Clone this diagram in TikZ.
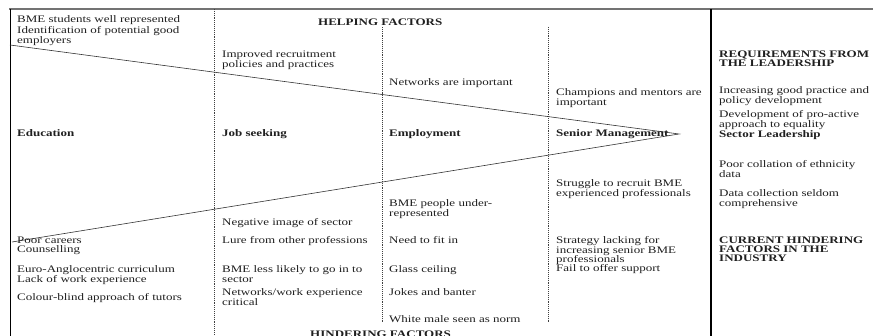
\documentclass[tikz,border=0pt]{standalone}
\usepackage{fontspec}
\setmainfont[FakeStretch=1.3]{Liberation Serif}
\begin{document}
\begin{tikzpicture}[x=1pt,y=-1pt,
  txt/.style={anchor=north west, inner sep=0pt, align=left, text=black!88, font=\fontsize{10}{9.7}\selectfont},
  hdr/.style={txt, font=\fontsize{10}{9.3}\selectfont\bfseries},
  dotline/.style={densely dotted, black!75, line width=0.9pt},
  frameline/.style={black, line width=0.8pt},
  wedge/.style={black!80, line width=0.6pt}]
\useasboundingbox (0,0) rectangle (873,336);
\clip (0,0) rectangle (873,336);
% frame
\draw[black!55, line width=1.5pt] (9,9) -- (873,9);
\draw[frameline] (10,9) -- (10,336);
\draw[black, line width=2pt] (711,9) -- (711,336);
\draw[dotline] (214,9) -- (214,336);
\draw[dotline] (382,27) -- (382,323);
\draw[dotline] (548,27) -- (548,323);
% wedge
\coordinate (ul) at (10,45);
\coordinate (ll) at (12,242);
\coordinate (apex) at (679,134);
\draw[wedge] (ul) -- (apex) -- (ll);
% texts
\node[txt, font=\fontsize{10}{10.5}\selectfont] (e1) at (17,15.5) {BME students well represented\\Identification of potential good\\employers};
\node[hdr] (help) at (318,18.5) {HELPING FACTORS};
\node[txt] (j1) at (222,50.5) {Improved recruitment\\policies and practices};
\node[txt] (m1) at (389,78.5) {Networks are important};
\node[txt] (s1) at (556,88.5) {Champions and mentors are\\important};
\node[hdr] (r1) at (719,50.5) {REQUIREMENTS FROM\\THE LEADERSHIP};
\node[txt] (r2) at (719,86.5) {Increasing good practice and\\policy development};
\node[txt] (r3) at (719,110.5) {Development of pro-active\\approach to equality\\\textbf{Sector Leadership}};
\node[hdr] (edu) at (17,129.5) {Education};
\node[hdr] (job) at (222,129.5) {Job seeking};
\node[hdr] (emp) at (389,129.5) {Employment};
\node[hdr] (sen) at (556,129.5) {Senior Management};
\node[txt] (r4) at (719,160.5) {Poor collation of ethnicity\\data};
\node[txt] (s2) at (556,179.5) {Struggle to recruit BME\\experienced professionals};
\node[txt] (r5) at (719,189.5) {Data collection seldom\\comprehensive};
\node[txt] (m2) at (389,199.5) {BME people under-\\represented};
\node[txt] (j2) at (222,218.5) {Negative image of sector};
\node[txt] (e2) at (17,236.5) {Poor careers\\Counselling};
\node[txt] (j3) at (222,236.5) {Lure from other professions};
\node[txt] (m3) at (389,236.5) {Need to fit in};
\node[txt, font=\fontsize{10}{9.3}\selectfont] (s3) at (556,236.5) {Strategy lacking for\\increasing senior BME\\professionals\\Fail to offer support};
\node[hdr] (r6) at (719,236.5) {CURRENT HINDERING\\FACTORS IN THE\\INDUSTRY};
\node[txt] (e3) at (17,265.5) {Euro-Anglocentric curriculum\\Lack of work experience};
\node[txt] (j4) at (222,265.5) {BME less likely to go in to\\sector};
\node[txt] (m4) at (389,265.5) {Glass ceiling};
\node[txt] (e4) at (17,293.5) {Colour-blind approach of tutors};
\node[txt] (j5) at (222,288.5) {Networks/work experience\\critical};
\node[txt] (m5) at (389,288.5) {Jokes and banter};
\node[txt] (m6) at (389,315.5) {White male seen as norm};
\node[hdr] (hind) at (310,331) {HINDERING FACTORS};
\end{tikzpicture}
\end{document}
